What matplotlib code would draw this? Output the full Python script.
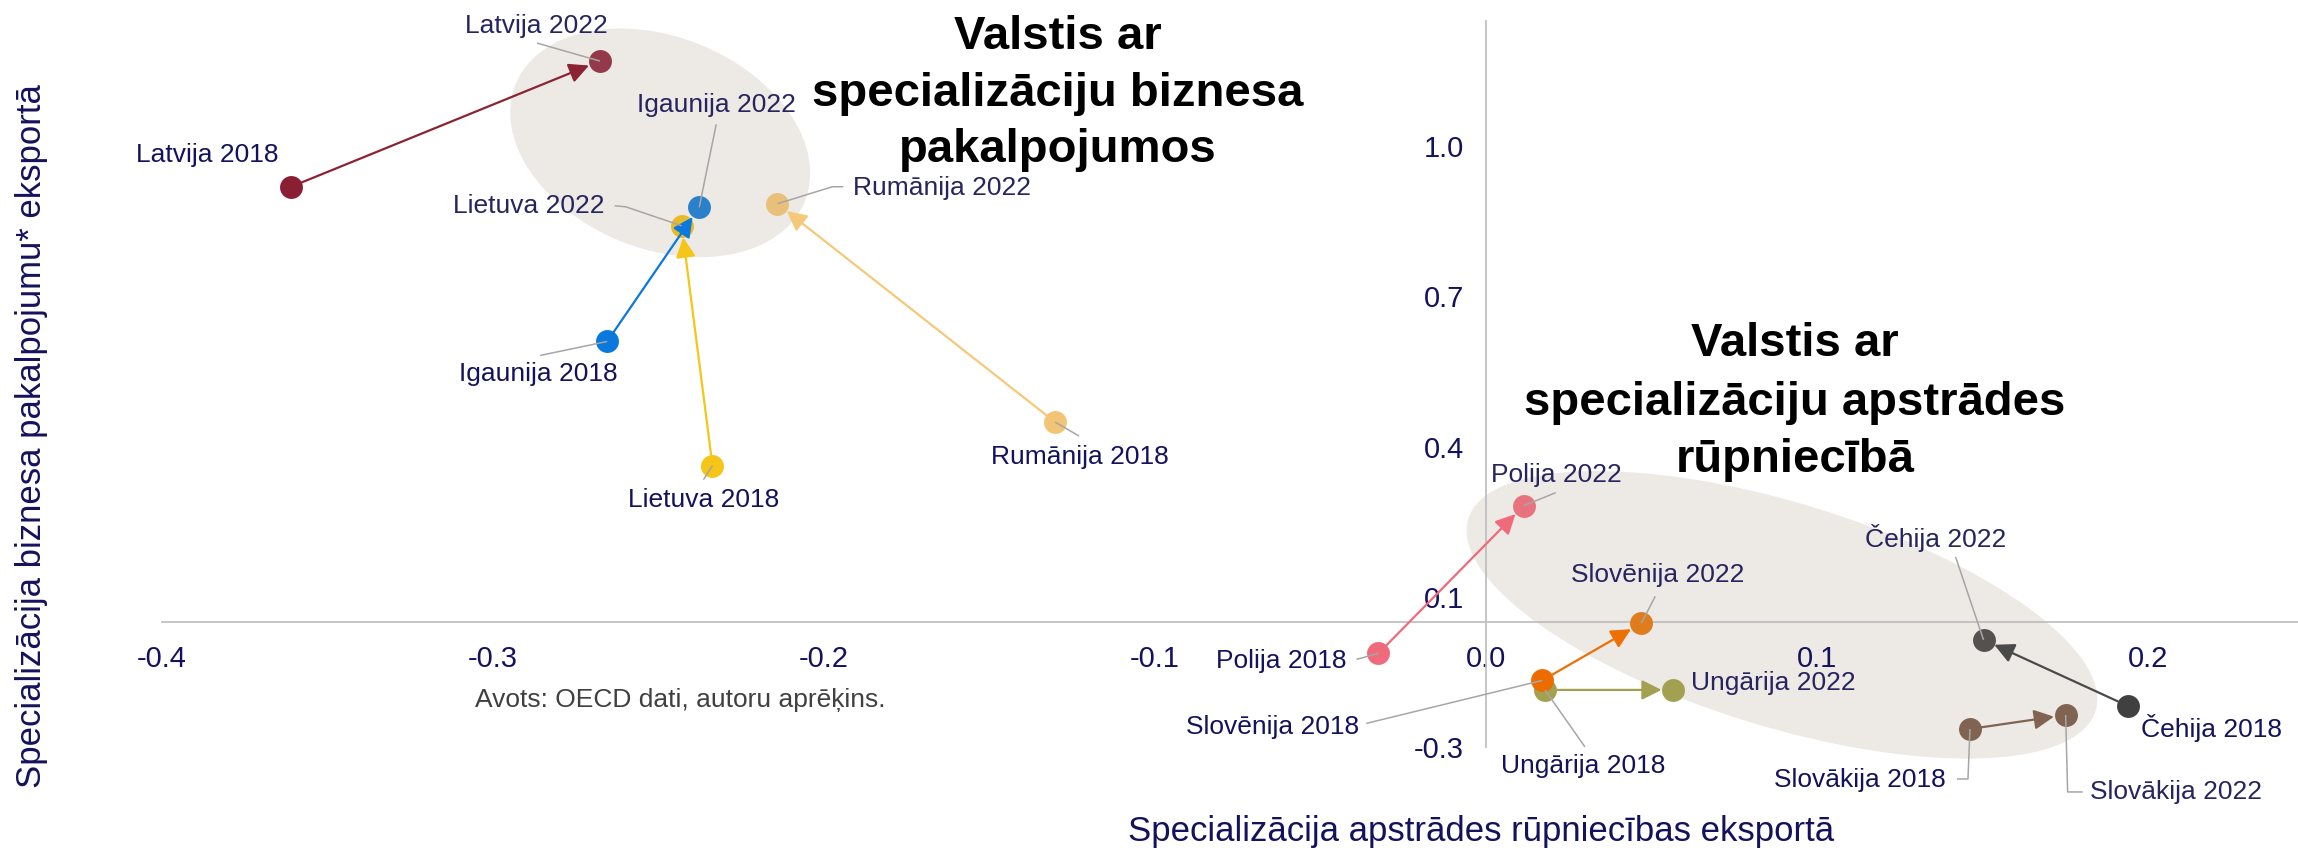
import matplotlib
matplotlib.use("Agg")
import matplotlib.pyplot as plt
from matplotlib.patches import Ellipse
from matplotlib.transforms import ScaledTranslation

plt.rcParams['font.family'] = ['Liberation Sans', 'DejaVu Sans']

# ---- data -------------------------------------------------------------
countries = ['Latvija', 'Igaunija', 'Lietuva', 'Rumānija', 'Polija',
             'Ungārija', 'Slovēnija', 'Čehija', 'Slovākija']
manuf_2018 = [-0.361, -0.2655, -0.2337, -0.1302, -0.0325, 0.0178, 0.0170, 0.1939, 0.1462]
serv_2018 = [0.869, 0.560, 0.312, 0.399, -0.063, -0.136, -0.117, -0.168, -0.214]
manuf_2022 = [-0.2677, -0.2377, -0.2430, -0.2141, 0.0114, 0.0566, 0.0469, 0.1503, 0.1751]
serv_2022 = [1.120, 0.828, 0.791, 0.835, 0.232, -0.136, -0.003, -0.036, -0.186]

x_ticks = [-0.4, -0.3, -0.2, -0.1, 0.0, 0.1, 0.2]
x_tick_labels = ['-0.4', '-0.3', '-0.2', '-0.1', '0.0', '0.1', '0.2']
y_ticks = [-0.25, 0.05, 0.35, 0.65, 0.95]
y_tick_labels = ['-0.3', '0.1', '0.4', '0.7', '1.0']

heading_services = ['Valstis ar', 'specializāciju biznesa', 'pakalpojumos']
heading_manuf = ['Valstis ar', 'specializāciju apstrādes', 'rūpniecībā']

# ---- styling ----------------------------------------------------------
colors_2018 = ['#8a1f33', '#0a78dc', '#f5c518', '#f2c476', '#ef6b7b',
               '#a3a04f', '#ed6c00', '#404040', '#806350']
colors_2022 = ['#94394a', '#2b80cc', '#e8ba2a', '#e9c07a', '#e8737f',
               '#a3a04f', '#e07c1c', '#55514f', '#806350']
arrow_colors = ['#8b2332', '#0a78dc', '#f5c518', '#f5c97a', '#ef6b7b',
                '#a3a04f', '#ed7004', '#4a4a4a', '#806350']
navy = '#14125c'
navy_light = '#27245e'
leader_col = '#a6a6a6'

# label offsets (pixels, y up) and leader-line vertices relative to each point
label_layout = {
    ('Latvija', '2018'): ((-84, 32), None),
    ('Latvija', '2022'): ((-64, 35), [(-63, 18), (0, 0)]),
    ('Igaunija', '2018'): ((-69, -33), [(-67, -14), (0, 0)]),
    ('Igaunija', '2022'): ((17, 102), [(17, 83), (0, 0)]),
    ('Lietuva', '2018'): ((-9, -34), [(-9, -14), (0, 0)]),
    ('Lietuva', '2022'): ((-153, 20), [(-67, 20), (-56, 19), (0, 0)]),
    ('Rumānija', '2018'): ((25, -35), [(24, -14), (0, 0)]),
    ('Rumānija', '2022'): ((165, 16), [(66, 17), (55, 17), (0, 0)]),
    ('Polija', '2018'): ((-97, -8), [(-22, -6), (0, 0)]),
    ('Polija', '2022'): ((33, 31), [(32, 13), (0, 0)]),
    ('Slovēnija', '2018'): ((-270, -47), [(-176, -43), (0, 0)]),
    ('Slovēnija', '2022'): ((16, 48), [(14, 27), (0, 0)]),
    ('Ungārija', '2018'): ((38, -76), [(40, -57), (0, 0)]),
    ('Ungārija', '2022'): ((100, 7), None),
    ('Čehija', '2018'): ((84, -22), None),
    ('Čehija', '2022'): ((-48, 102), [(-28, 83), (0, 0)]),
    ('Slovākija', '2018'): ((-110, -51), [(-13, -50), (-2, -50), (0, 0)]),
    ('Slovākija', '2022'): ((110, -77), [(17, -77), (2, -77), (0, 0)]),
}

W, H, DPI = 2298, 851, 100
fig = plt.figure(figsize=(W / DPI, H / DPI), dpi=DPI)
ax = fig.add_axes([162 / W, 104 / H, (W - 162) / W, 726 / H])
ax.set_xlim(-0.4, 0.2453)
ax.set_ylim(-0.25, 1.2)

# axes crossing at the origin
for side in ('top', 'right'):
    ax.spines[side].set_visible(False)
ax.spines['left'].set_position(('data', 0))
ax.spines['bottom'].set_position(('data', 0))
for side in ('left', 'bottom'):
    ax.spines[side].set_color('#c0c0c0')
    ax.spines[side].set_linewidth(1.3)

ax.set_xticks(x_ticks, x_tick_labels)
ax.set_yticks(y_ticks, y_tick_labels)
ax.tick_params(axis='x', length=0, pad=17, labelsize=21, labelcolor=navy)
ax.tick_params(axis='y', length=0, pad=16, labelsize=21, labelcolor=navy)


def px_anchor(x, y):
    """Transform placing inch-based geometry at a data point."""
    return fig.dpi_scale_trans + ScaledTranslation(x, y, ax.transData)


# highlighted groups
groups = [((-0.2495, 0.9567), 312, 212, -22), ((0.0894, 0.014), 656, 224, -17)]
for (cx, cy), w, h, ang in groups:
    ax.add_patch(Ellipse((0, 0), w / DPI, h / DPI, angle=ang,
                         transform=px_anchor(cx, cy), facecolor='#ede9e5',
                         edgecolor='none', zorder=0.5, clip_on=False))

# movement 2018 -> 2022
for i, c in enumerate(countries):
    ax.scatter([manuf_2018[i]], [serv_2018[i]], s=272, color=colors_2018[i],
               zorder=3, linewidths=0, clip_on=False)
    ax.scatter([manuf_2022[i]], [serv_2022[i]], s=272, color=colors_2022[i],
               zorder=3, linewidths=0, clip_on=False)
    ax.annotate('', xy=(manuf_2022[i], serv_2022[i]),
                xytext=(manuf_2018[i], serv_2018[i]),
                arrowprops=dict(arrowstyle='-|>,head_length=0.6,head_width=0.3',
                                color=arrow_colors[i], lw=1.6, shrinkA=8,
                                shrinkB=8.5, mutation_scale=20),
                zorder=4)

# point labels with leader lines
for i, c in enumerate(countries):
    for yr, xs, ys in (('2018', manuf_2018, serv_2018), ('2022', manuf_2022, serv_2022)):
        (dx, dy), verts = label_layout[(c, yr)]
        ax.annotate(f'{c} {yr}', xy=(xs[i], ys[i]), xytext=(dx, dy),
                    textcoords='offset pixels', ha='center', va='center',
                    fontsize=19, color=navy if yr == '2018' else navy_light,
                    zorder=6)
        if verts:
            vx = [v[0] / DPI for v in verts]
            vy = [v[1] / DPI for v in verts]
            ax.plot(vx, vy, color=leader_col, lw=1.1,
                    transform=px_anchor(xs[i], ys[i]), zorder=5,
                    solid_capstyle='butt', clip_on=False)

# group headings, one text per line
for line, yc in zip(heading_services, (37, 94, 150)):
    fig.text(1058 / W, 1 - yc / H, line, ha='center', va='center',
             fontsize=34, fontweight='bold', color='black')
for line, yc in zip(heading_manuf, (344, 403, 460)):
    fig.text(1795 / W, 1 - yc / H, line, ha='center', va='center',
             fontsize=34, fontweight='bold', color='black')

# axis titles and source
fig.text(1481 / W, 1 - 832 / H, 'Specializācija apstrādes rūpniecības eksportā',
         ha='center', va='center', fontsize=25, color=navy)
fig.text(32 / W, 1 - 436 / H, 'Specializācija biznesa pakalpojumu* eksportā',
         ha='center', va='center', rotation=90, fontsize=25, color=navy)
fig.text(680 / W, 1 - 700 / H, 'Avots: OECD dati, autoru aprēķins.',
         ha='center', va='center', fontsize=19, color='#404040')

fig.savefig('out.png', dpi=DPI, facecolor='white')
